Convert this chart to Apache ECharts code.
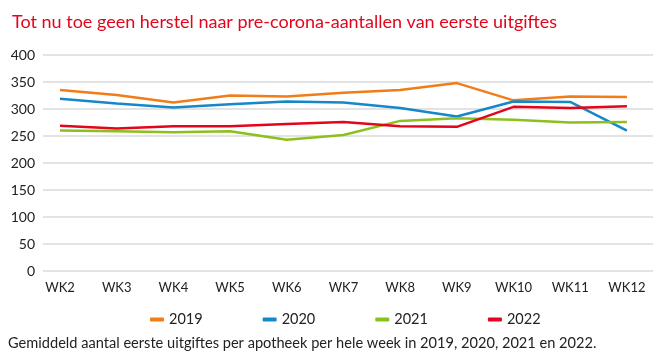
<!DOCTYPE html>
<html><head><meta charset="utf-8">
<script src="https://cdn.jsdelivr.net/npm/echarts@6/dist/echarts.min.js"></script>
<style>html,body{margin:0;padding:0;background:#fff}#c{width:666px;height:363px}</style>
</head><body><div id="c"></div>
<script>
const categories = ['WK2','WK3','WK4','WK5','WK6','WK7','WK8','WK9','WK10','WK11','WK12'];
const s2019 = [335,326,312,325,323,330,335,348,316,323,322];
const s2020 = [319,310,303,309,314,312,302,286,314,313,260];
const s2021 = [260,259,257,259,243,252,278,283,280,275,276];
const s2022 = [269,264,268,268,272,276,268,267,304,302,305];
const yTicks = [0,50,100,150,200,250,300,350,400];
const seriesNames = ['2019','2020','2021','2022'];
const colors = ['#f07d1a','#1687c9','#8dbf1f','#e3051b'];
const allData = [s2019,s2020,s2021,s2022];
const font = 'Lato, "Open Sans", sans-serif';
const chart = echarts.init(document.getElementById('c'), null, {renderer:'canvas'});
const idx = categories.map((_, i) => i);
chart.setOption({
  animation:false,
  title:{text:'Tot nu toe geen herstel naar pre-corona-aantallen van eerste uitgiftes', left:7, top:8,
    textStyle:{color:'#e3051b', fontSize:18, fontWeight:'normal', fontFamily:font}},
  grid:{left:43, right:13, top:55, bottom:92},
  legend:{data:seriesNames, top:307, left:145, icon:'roundRect', itemWidth:14, itemHeight:4, itemGap:60,
    textStyle:{fontSize:14.5, color:'#222', fontFamily:font}},
  graphic:[{type:'text', left:8, top:336, style:{text:'Gemiddeld aantal eerste uitgiftes per apotheek per hele week in 2019, 2020, 2021 en 2022.',
    fill:'#222', fontSize:14.6, fontFamily:font}}],
  xAxis:{type:'value', min:-0.3, max:10.46, axisLine:{show:false}, axisTick:{show:false}, splitLine:{show:false},
    axisLabel:{customValues:idx, formatter:v=>categories[Math.round(v)], color:'#222', fontSize:13, fontFamily:font, margin:10}},
  yAxis:{type:'value', min:0, max:400, interval:50, axisLine:{show:false}, axisTick:{show:false},
    axisLabel:{color:'#222', fontSize:14, fontFamily:font, margin:8},
    splitLine:{lineStyle:{color:'#e3e3e3', width:2}}},
  series: allData.map((d, k) => ({name:seriesNames[k], type:'line', data:d.map((v,i)=>[i,v]), symbol:'none',
    lineStyle:{width:2.5, color:colors[k]}, itemStyle:{color:colors[k]}}))
});
</script></body></html>
